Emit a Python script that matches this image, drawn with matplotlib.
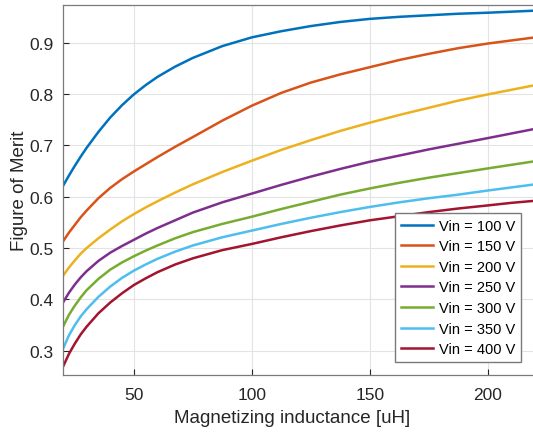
import matplotlib
matplotlib.use("Agg")
import matplotlib.pyplot as plt

# magnetizing inductance [uH] and figure of merit
lm = [20, 22.5, 25, 27.5, 30, 35, 40, 45, 50, 55, 60, 67.5, 75, 87.5, 100,
      112.5, 125, 137.5, 150, 162.5, 175, 187.5, 200, 210, 220]
fom_100 = [0.621, 0.641, 0.660, 0.678, 0.695, 0.726, 0.754, 0.778, 0.799, 0.817, 0.833, 0.853, 0.870,
           0.893, 0.910, 0.922, 0.932, 0.940, 0.946, 0.950, 0.953, 0.956, 0.958, 0.960, 0.962]
fom_150 = [0.513, 0.530, 0.545, 0.560, 0.573, 0.597, 0.617, 0.634, 0.649, 0.663, 0.677, 0.697, 0.716,
           0.748, 0.777, 0.802, 0.822, 0.838, 0.852, 0.866, 0.878, 0.889, 0.898, 0.904, 0.910]
fom_200 = [0.446, 0.462, 0.476, 0.489, 0.500, 0.519, 0.536, 0.552, 0.566, 0.579, 0.591, 0.608, 0.624,
           0.648, 0.670, 0.691, 0.710, 0.728, 0.744, 0.759, 0.773, 0.787, 0.799, 0.808, 0.817]
fom_250 = [0.394, 0.413, 0.429, 0.443, 0.455, 0.475, 0.491, 0.504, 0.516, 0.528, 0.539, 0.554, 0.569,
           0.589, 0.606, 0.623, 0.639, 0.654, 0.668, 0.680, 0.692, 0.703, 0.714, 0.723, 0.732]
fom_300 = [0.347, 0.370, 0.388, 0.404, 0.418, 0.440, 0.458, 0.472, 0.484, 0.495, 0.505, 0.519, 0.531,
           0.547, 0.561, 0.576, 0.590, 0.604, 0.616, 0.627, 0.637, 0.646, 0.655, 0.662, 0.669]
fom_350 = [0.304, 0.330, 0.350, 0.367, 0.381, 0.405, 0.425, 0.442, 0.456, 0.468, 0.479, 0.493, 0.505,
           0.521, 0.534, 0.547, 0.559, 0.570, 0.580, 0.589, 0.597, 0.604, 0.612, 0.618, 0.624]
fom_400 = [0.269, 0.294, 0.314, 0.332, 0.347, 0.373, 0.394, 0.412, 0.428, 0.441, 0.453, 0.468, 0.480,
           0.496, 0.508, 0.521, 0.533, 0.544, 0.554, 0.562, 0.570, 0.577, 0.583, 0.588, 0.592]
series = [fom_100, fom_150, fom_200, fom_250, fom_300, fom_350, fom_400]
labels = ["Vin = 100 V", "Vin = 150 V", "Vin = 200 V", "Vin = 250 V",
          "Vin = 300 V", "Vin = 350 V", "Vin = 400 V"]
colors = ["#0072BD", "#D95319", "#EDB120", "#7E2F8E", "#77AC30", "#4DBEEE", "#A2142F"]

plt.rcParams["font.family"] = ["Liberation Sans", "DejaVu Sans"]
W, H = 533, 435
fig = plt.figure(figsize=(W/100, H/100), dpi=100)
ax = fig.add_axes([63/W, 59/H, 472/W, 370/H])
for y, lab, c in zip(series, labels, colors):
    ax.plot(lm, y, color=c, lw=1.8, label=lab, solid_joinstyle="round")

ax.set_xlim(20, 220); ax.set_ylim(0.253, 0.973)
ax.set_xticks([50, 100, 150, 200])
ax.set_yticks([0.3, 0.4, 0.5, 0.6, 0.7, 0.8, 0.9])
ax.set_yticklabels(["0.3", "0.4", "0.5", "0.6", "0.7", "0.8", "0.9"])
ax.grid(color="#e3e3e3", lw=0.8); ax.set_axisbelow(True)
ax.tick_params(direction="in", length=4, width=0.8, colors="#262626", labelsize=12.5, pad=7)
ax.tick_params(axis="x", pad=9)
for s in ax.spines.values(): s.set_color("#7a7a7a"); s.set_linewidth(0.9)
ax.spines["right"].set_visible(False)
ax.set_xlabel("Magnetizing inductance [uH]", fontsize=13.5, color="#262626")
ax.set_ylabel("Figure of Merit", fontsize=13.5, color="#262626")
ax.xaxis.set_label_coords(229/472, -34/370)
ax.yaxis.set_label_coords(-35/472, 0.5)
ax.legend(loc="lower right", bbox_to_anchor=(521/W, 1-363/H), bbox_transform=fig.transFigure,
          fontsize=10.5, fancybox=False, framealpha=1, edgecolor="#7a7a7a", handlelength=2.2,
          labelspacing=0.45, borderpad=0.4, handletextpad=0.4, borderaxespad=0)
fig.savefig("out.png", dpi=100)
